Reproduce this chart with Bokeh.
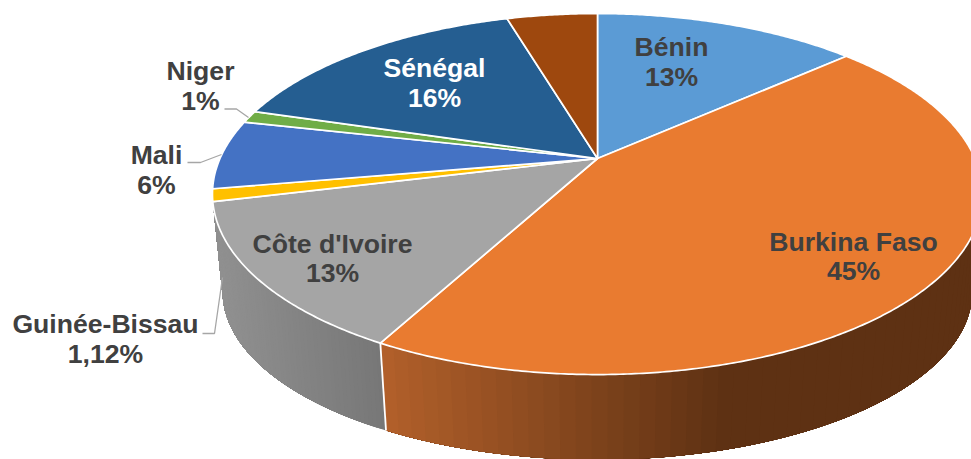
import math
from bokeh.plotting import figure
from bokeh.models import Range1d
from bokeh.core.properties import value
from bokeh.embed import file_html
from bokeh.resources import INLINE

# ---- data
countries = ["Bénin", "Burkina Faso", "Côte d'Ivoire", "Guinée-Bissau", "Mali", "Niger", "Sénégal", "Togo"]
shares = [13.4, 44.5, 13.3, 1.12, 6.2, 1.1, 15.8, 4.6]
share_labels = ["13%", "45%", "13%", "1,12%", "6%", "1%", "16%", ""]
colors = ["#5B9BD5", "#E97B30", "#A5A5A5", "#FFC000", "#4472C4", "#70AD47", "#255E91", "#9E480E"]
label_colors = ["#404040", "#404040", "#404040", "#404040", "#404040", "#404040", "#FFFFFF", "#404040"]

# ---- layout (pixels of the picture)
W, H = 971, 459
CX = 597
K = 0.197
TOP = dict(ay=158.0, a=377.5, b=173.5)
BOT = dict(ay=258.0, a=367.6, b=161.6)
label_pos = {
    "Bénin": (671, 47, 77), "Burkina Faso": (853, 242, 271), "Côte d'Ivoire": (332, 244, 273),
    "Guinée-Bissau": (105, 324, 354), "Mali": (156, 155, 185), "Niger": (200, 71, 101),
    "Sénégal": (434, 68, 98),
}
leaders = {
    "Niger": ([224, 236, 248], [108.5, 108.5, 117]),
    "Mali": ([187, 200, 221], [162, 162, 154]),
    "Guinée-Bissau": ([202, 214, 222], [333, 333, 277]),
}


def project(t, g):
    """Clockwise angle from the top on the disc -> picture pixel (perspective)."""
    u, v = math.sin(t), math.cos(t)
    d = 1 + K * v
    return CX + g["a"] * u / d, g["ay"] - g["b"] * v / d


def mix(c1, c2, f):
    f = max(0.0, min(1.0, f))
    return "#%02x%02x%02x" % tuple(round(a + (b - a) * f) for a, b in zip(c1, c2))


total = sum(shares)
edges = [0.0]
for s in shares:
    edges.append(edges[-1] + s / total * 2 * math.pi)

p = figure(width=W, height=H, x_range=Range1d(0, W), y_range=Range1d(H, 0),
           output_backend="svg", toolbar_location=None, min_border=0,
           outline_line_color=None, background_fill_color="white", border_fill_color="white",
           styles={"position": "absolute", "left": "0px", "top": "0px"})
p.axis.visible = False
p.grid.visible = False

# ---- side wall: Burkina Faso then Côte d'Ivoire, shaded left to right.
# Strips are painted over each other (each reaches the slice's end) so no seams show.
wall = {
    1: ((0xB2, 0x60, 0x2A), (0x5E, 0x31, 0x13), 386, 720),
    2: ((0x92, 0x92, 0x92), (0x77, 0x77, 0x77), 214, 386),
}
for i, (c1, c2, x0, x1) in wall.items():
    n = 70
    a0, a1 = edges[i], edges[i + 1]
    if i == 1:
        a0 = max(a0, math.radians(70))
    xs, ys, cs = [], [], []
    for j in range(n):
        t0 = a0 + (a1 - a0) * j / n
        t1 = a0 + (a1 - a0) * (j + 1) / n
        steps = [t0 + (a1 - t0) * m / 24 for m in range(25)]
        upper = [project(t, TOP) for t in steps]
        lower = [project(t, BOT) for t in reversed(steps)]
        pts = upper + lower
        xs.append([q[0] for q in pts])
        ys.append([q[1] for q in pts])
        mid = project((t0 + t1) / 2, BOT)
        cs.append(mix(c1, c2, (mid[0] - x0) / (x1 - x0)))
    p.patches(xs, ys, fill_color=cs, line_color=None)

seam_t = edges[2]
a, b = project(seam_t, TOP), project(seam_t, BOT)
p.line([a[0], b[0]], [a[1], b[1]], line_color="white", line_width=1.8)

# ---- top surface
ax, ay = CX, TOP["ay"]
for i, c in enumerate(colors):
    n = max(8, int((edges[i + 1] - edges[i]) * 120))
    pts = [project(edges[i] + (edges[i + 1] - edges[i]) * j / n, TOP) for j in range(n + 1)]
    p.patch([ax] + [q[0] for q in pts], [ay] + [q[1] for q in pts],
            fill_color=c, line_color="white", line_width=1.7, line_join="round")

# ---- leaders and labels
for name, (lx, ly) in leaders.items():
    p.line(lx, ly, line_color="#A6A6A6", line_width=1.3)

for name, lab, col in zip(countries, share_labels, label_colors):
    if name not in label_pos:
        continue
    x, y1, y2 = label_pos[name]
    for txt, y in ((name, y1), (lab, y2)):
        p.text([x], [y - 0.5], text=[txt], text_color=col, text_font=value("Liberation Sans"),
               text_font_style="bold", text_font_size="26.6px",
               text_align="center", text_baseline="middle")

open("out.html", "w").write(file_html(p, INLINE))
